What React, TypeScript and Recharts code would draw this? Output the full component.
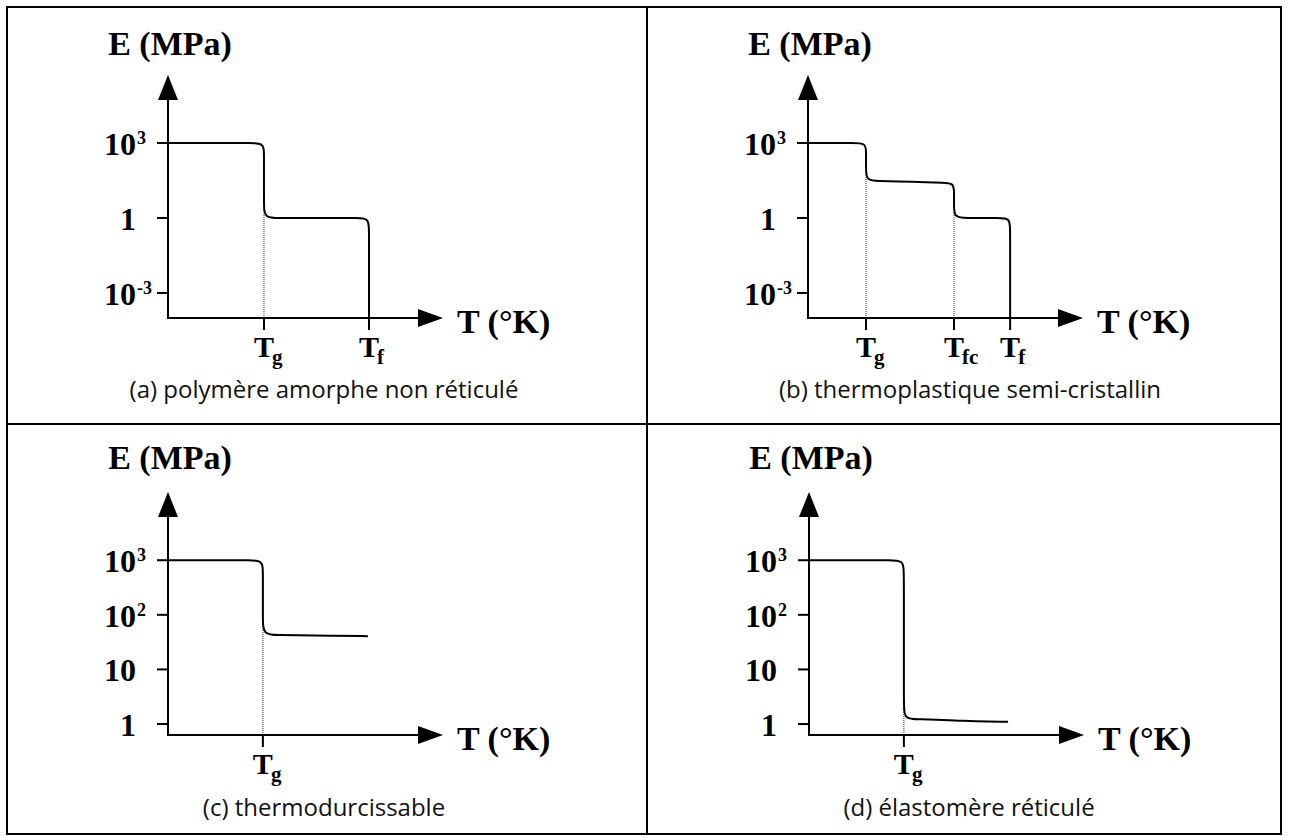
import React from 'react';
import { LineChart, Line, XAxis, YAxis, ReferenceLine } from 'recharts';

// ---------- data (T in arbitrary units along the axis, E in MPa) ----------
// (a) polymère amorphe non réticulé
const aT = [0, 23.3, 29.1, 34.9, 34.9, 34.9, 34.9, 40.7, 46.5, 63.3, 68.4, 73.1, 73.1, 73.1];
const aE = [1000, 1000, 1000, 1000, 398, 3.63, 1, 1, 1, 1, 1, 1, 0.3, 0.0001];
// (b) thermoplastique semi-cristallin
const bT = [0, 10.9, 16, 21.1, 21.1, 21.1, 21.1, 26.2, 31.6, 44.4, 48.7, 53.1, 53.1, 53.1, 53.1, 58.2, 63.3, 69.1, 73.5, 73.5, 73.5];
const bE = [1000, 1000, 1000, 1000, 437, 100, 30.2, 30.2, 29.4, 26.8, 25.8, 25.1, 10, 3.31, 1, 1, 1, 1, 1, 0.33, 0.0001];
// (c) thermodurcissable
const cT = [0, 23.3, 29.1, 34.5, 34.5, 34.5, 34.5, 40.4, 46.2, 58.9, 72.7];
const cE = [1000, 1000, 1000, 1000, 603, 86.9, 42.5, 42.5, 42.5, 41.6, 40.7];
// (d) élastomère réticulé
const dT = [0, 22.9, 28.7, 34.5, 34.5, 34.5, 34.5, 40.0, 45.5, 54.9, 72.4];
const dE = [1000, 1000, 1000, 1000, 603, 2.23, 1.24, 1.22, 1.21, 1.14, 1.1];

const abYDomain = [0.0001, 524800];
const cdYDomain = [0.63, 17750];
const abYTicks = [0.001, 1, 1000];
const abYLabels = [['10', '-3'], ['1', ''], ['10', '3']];
const cdYTicks = [1, 10, 100, 1000];
const cdYLabels = [['1', ''], ['10', ''], ['10', '2'], ['10', '3']];

const aXTicks = [34.9, 73.1];
const aXLabels = [['T', 'g'], ['T', 'f']];
const bXTicks = [21.1, 53.1, 73.5];
const bXLabels = [['T', 'g'], ['T', 'fc'], ['T', 'f']];
const cXTicks = [34.5];
const cXLabels = [['T', 'g']];
const dXTicks = [34.5];
const dXLabels = [['T', 'g']];

// dotted drop lines: [T, E at top of the dotted line]
const aDrops = [[34.9, 2.5]];
const bDrops = [[21.1, 83], [53.1, 2.75]];
const cDrops = [[34.5, 73]];
const dDrops = [[34.5, 1.96]];

const captions = [
  '(a) polymère amorphe non réticulé',
  '(b) thermoplastique semi-cristallin',
  '(c) thermodurcissable',
  '(d) élastomère réticulé',
];
const yTitle = 'E (MPa)';
const xTitle = 'T (°K)';

const zip = (t: number[], e: number[]) => t.map((v, i) => ({ T: v, E: e[i] }));

const SERIF = "'Liberation Serif', 'Times New Roman', serif";
const SANS = "'Open Sans', sans-serif";

const findIdx = (arr: number[], v: number) => {
  let best = 0;
  arr.forEach((a, i) => {
    if (Math.abs(Math.log10(a) - Math.log10(v)) < Math.abs(Math.log10(arr[best]) - Math.log10(v))) best = i;
  });
  return best;
};

const YTick = (p: any) => {
  const { x, y, payload, ticks, labels } = p;
  const lab = labels[findIdx(ticks, payload.value)];
  return (
    <g>
      <text x={x} y={y + 12} textAnchor="end" fontFamily={SERIF} fontWeight="bold" fontSize={32} fill="#000">
        {lab[0]}
      </text>
      {lab[1] ? (
        <text x={x + 1} y={y + 1} textAnchor="start" fontFamily={SERIF} fontWeight="bold" fontSize={18} fill="#000">
          {lab[1]}
        </text>
      ) : null}
    </g>
  );
};

const XTick = (p: any) => {
  const { x, y, payload, ticks, labels } = p;
  let idx = 0;
  ticks.forEach((t: number, i: number) => {
    if (Math.abs(t - payload.value) < Math.abs(ticks[idx] - payload.value)) idx = i;
  });
  const lab = labels[idx];
  return (
    <g>
      <text x={x} y={y + 27} textAnchor="middle" fontFamily={SERIF} fontWeight="bold" fontSize={30} fill="#000">
        {lab[0]}
      </text>
      <text x={x + 8} y={y + 34} textAnchor="start" fontFamily={SERIF} fontWeight="bold" fontSize={21} fill="#000">
        {lab[1]}
      </text>
    </g>
  );
};

const VArrow = (p: any) => {
  const x = p.x1;
  const top = Math.min(p.y1, p.y2);
  const bot = Math.max(p.y1, p.y2);
  return (
    <g>
      <line x1={x} y1={bot + 1} x2={x} y2={top + 15} stroke="#000" strokeWidth={2} />
      <polygon points={`${x},${top} ${x - 10},${top + 25} ${x + 10},${top + 25}`} fill="#000" />
      <text x={x + 2} y={top - p.titleOffset} textAnchor="middle" fontFamily={SERIF} fontWeight="bold" fontSize={34} fill="#000">
        {yTitle}
      </text>
    </g>
  );
};

const HArrow = (p: any) => {
  const y = p.y1;
  const left = Math.min(p.x1, p.x2);
  const right = Math.max(p.x1, p.x2);
  return (
    <g>
      <line x1={left - 1} y1={y} x2={right - 15} y2={y} stroke="#000" strokeWidth={2} />
      <polygon points={`${right},${y} ${right - 25},${y - 9} ${right - 25},${y + 9}`} fill="#000" />
      <text x={right + 14} y={y + 15} textAnchor="start" fontFamily={SERIF} fontWeight="bold" fontSize={34} fill="#000">
        {xTitle}
      </text>
    </g>
  );
};

type PanelProps = {
  data: { T: number; E: number }[];
  box: { x0: number; x1: number; y0: number; y1: number; top: number };
  yDomain: number[];
  yTicks: number[];
  yLabels: string[][];
  xTicks: number[];
  xLabels: string[][];
  drops: number[][];
  titleOffset: number;
};

function Panel({ data, box, yDomain, yTicks, yLabels, xTicks, xLabels, drops, titleOffset }: PanelProps) {
  const W = 600, H = 420, YW = 60, XH = 60;
  const L = box.x0 - 168;
  const Tp = box.top;
  const margin = {
    left: box.x0 - L - YW,
    top: box.y0 - Tp,
    right: W - (box.x1 - L),
    bottom: H - (box.y1 - Tp) - XH,
  };
  return (
    <div style={{ position: 'absolute', left: L, top: Tp }}>
      <LineChart width={W} height={H} data={data} margin={margin}>
        <XAxis
          dataKey="T"
          type="number"
          domain={[0, 100]}
          ticks={xTicks}
          interval={0}
          axisLine={false}
          tickSize={12}
          tickMargin={0}
          tickLine={{ stroke: '#000', strokeWidth: 2 }}
          tick={(p: any) => <XTick {...p} ticks={xTicks} labels={xLabels} />}
          height={XH}
          allowDataOverflow
        />
        <YAxis
          type="number"
          scale="log"
          domain={yDomain}
          ticks={yTicks}
          interval={0}
          axisLine={false}
          tickSize={11}
          tickMargin={21}
          tickLine={{ stroke: '#000', strokeWidth: 2 }}
          tick={(p: any) => <YTick {...p} ticks={yTicks} labels={yLabels} />}
          width={YW}
          allowDataOverflow
        />
        {drops.map((d, i) => (
          <ReferenceLine
            key={i}
            segment={[{ x: d[0], y: yDomain[0] }, { x: d[0], y: d[1] }]}
            stroke="#555"
            strokeWidth={1.2}
            strokeDasharray="1 1"
            ifOverflow="visible"
          />
        ))}
        <ReferenceLine x={0} ifOverflow="visible" shape={(p: any) => <VArrow {...p} titleOffset={titleOffset} />} />
        <ReferenceLine y={yDomain[0]} ifOverflow="visible" shape={(p: any) => <HArrow {...p} />} />
        <Line type="basis" dataKey="E" stroke="#000" strokeWidth={2} dot={false} isAnimationActive={false} />
      </LineChart>
    </div>
  );
}

export default function App() {
  const capPos = [
    [324, 398],
    [970, 398],
    [324, 816],
    [969, 816],
  ];
  return (
    <div style={{ position: 'absolute', left: 0, top: 0, width: 1289, height: 837, background: '#fff', overflow: 'hidden' }}>
      <Panel data={zip(aT, aE)} box={{ x0: 168, x1: 443, y0: 75, y1: 318, top: 0 }} yDomain={abYDomain} yTicks={abYTicks} yLabels={abYLabels} xTicks={aXTicks} xLabels={aXLabels} drops={aDrops} titleOffset={20} />
      <Panel data={zip(bT, bE)} box={{ x0: 808, x1: 1083, y0: 75, y1: 318, top: 0 }} yDomain={abYDomain} yTicks={abYTicks} yLabels={abYLabels} xTicks={bXTicks} xLabels={bXLabels} drops={bDrops} titleOffset={20} />
      <Panel data={zip(cT, cE)} box={{ x0: 168, x1: 443, y0: 492, y1: 735, top: 420 }} yDomain={cdYDomain} yTicks={cdYTicks} yLabels={cdYLabels} xTicks={cXTicks} xLabels={cXLabels} drops={cDrops} titleOffset={23} />
      <Panel data={zip(dT, dE)} box={{ x0: 809, x1: 1084, y0: 492, y1: 735, top: 420 }} yDomain={cdYDomain} yTicks={cdYTicks} yLabels={cdYLabels} xTicks={dXTicks} xLabels={dXLabels} drops={dDrops} titleOffset={23} />
      <svg width={1289} height={837} style={{ position: 'absolute', left: 0, top: 0, pointerEvents: 'none' }}>
        <rect x={7} y={7} width={1274} height={827} fill="none" stroke="#000" strokeWidth={2} />
        <line x1={647} y1={7} x2={647} y2={834} stroke="#000" strokeWidth={2} />
        <line x1={7} y1={424} x2={1281} y2={424} stroke="#000" strokeWidth={2} />
        {captions.map((c, i) => (
          <text key={i} x={capPos[i][0]} y={capPos[i][1]} textAnchor="middle" fontFamily={SANS} fontSize={24} fill="#111">
            {c}
          </text>
        ))}
      </svg>
    </div>
  );
}
